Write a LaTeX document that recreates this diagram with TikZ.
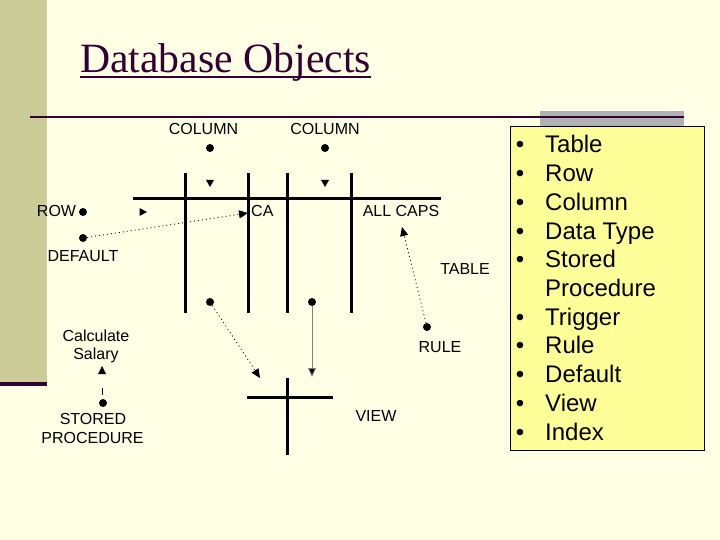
\documentclass[tikz,border=0pt]{standalone}
\usepackage{fontspec}
\setmainfont{Liberation Serif}
\newfontfamily\arialf{Liberation Sans}
\usetikzlibrary{arrows.meta,calc}
\definecolor{bgc}{HTML}{FFFFE5}
\definecolor{bandc}{HTML}{CCCC99}
\definecolor{purp}{HTML}{330033}
\definecolor{boxc}{HTML}{FFFF99}
\definecolor{grayc}{HTML}{B2B2B2}
\tikzset{
  lbl/.style={font=\arialf\fontsize{16}{19}\selectfont, inner sep=0pt, anchor=base},
  dot/.style={circle, fill=black, inner sep=0pt, minimum size=8pt},
  bar/.style={line width=3pt, black},
  dots/.style={dash pattern=on 1pt off 3pt, line width=0.8pt},
  tip/.style={-{Triangle[length=9pt,width=8pt]}},
  itm/.style={font=\arialf\fontsize{24}{29}\selectfont, inner sep=0pt, anchor=base west},
}
\begin{document}
\begin{tikzpicture}[x=1pt,y=-1pt]
\useasboundingbox (0,0) rectangle (720,540);
\fill[bgc] (0,0) rectangle (720,540);
% left band
\fill[bandc] (0,0) rectangle (47,382);
\fill[purp] (0,382) rectangle (47,386);
% title
\node[font=\fontsize{41.7}{48}\selectfont, text=purp, inner sep=0pt, anchor=base west] (title) at (80,73) {Database Objects};
\draw[purp, line width=2pt] ($(title.base west)+(0,4)$) -- ($(title.base east)+(0,4)$);
% gray block and top rule
\fill[grayc] (540,111) rectangle (684,126);
\draw[purp, line width=2pt] (30,117) -- (684,117);
% yellow box
\node[draw=black, fill=boxc, line width=0.6pt, minimum width=194pt, minimum height=324pt, inner sep=0pt, anchor=north west] (list) at (510,126) {};
\foreach \t [count=\i from 0] in {Table,Row,Column,Data Type,Stored,Procedure,Trigger,Rule,Default,View,Index}{
  \node[itm] (it\i) at (545,153+28.7*\i) {\t};
}
\foreach \i in {0,1,2,3,4,6,7,8,9,10}{
  \node[itm, anchor=base] (bu\i) at (520,153+28.7*\i) {•};
}
% table grid
\coordinate (h1) at (133,199); \coordinate (h2) at (441,199);
\draw[bar] (h1) -- (h2);
\foreach \x/\n in {185/a,248/b,287/c,351/d}{
  \coordinate (v\n t) at (\x,173); \coordinate (v\n b) at (\x,313);
  \draw[bar] (v\n t) -- (v\n b);
}
% labels
\node[lbl] (col1) at (203.5,135) {COLUMN};
\node[lbl] (col2) at (325,135) {COLUMN};
\node[lbl] (row) at (56.5,217) {ROW};
\node[lbl] (def) at (83,261) {DEFAULT};
\node[lbl, anchor=base west] (ca) at (251,217) {CA};
\node[lbl] (allcaps) at (401,217) {ALL CAPS};
\node[lbl] (table) at (465,274) {TABLE};
\node[lbl] (rule) at (440,352) {RULE};
\node[lbl] (view) at (376,421) {VIEW};
\node[lbl] (calc) at (96,341) {Calculate};
\node[lbl] (sal) at (96,359) {Salary};
\node[lbl] (stor) at (93,424) {STORED};
\node[lbl] (proc) at (92.5,443) {PROCEDURE};
% dots
\node[dot] (dcol1) at (210,148) {};
\node[dot] (dcol2) at (325,148) {};
\node[dot] (drow) at (83,212) {};
\node[dot] (ddef) at (83,238) {};
\node[dot] (drule) at (427,327) {};
\node[dot] (dsp) at (103,403) {};
\node[dot] (dv1) at (210,302) {};
\node[dot] (dv2) at (312,302) {};
% lone arrowheads
\fill (206,180) -- (214,180) -- (210,187) -- cycle;
\fill (321,180) -- (329,180) -- (325,187) -- cycle;
\fill (139.5,208) -- (139.5,216) -- (147,212) -- cycle;
% connectors
\coordinate (caTip) at (248,213);
\draw[dots, tip] (ddef) -- (caTip);
\coordinate (acTip) at (402,227);
\draw[dots, tip] (drule) -- (acTip);
\coordinate (spTip) at (102,366);
\coordinate (spA) at (102.5,388); \coordinate (spB) at (102.5,395);
\fill (98,374) -- (106,374) -- (102,366) -- cycle;
\draw[line width=1pt] (spA) -- (spB);
\coordinate (v1Tip) at (260,378);
\draw[dots, tip] (dv1) -- (v1Tip);
\coordinate (v2Tip) at (312,377);
\draw[gray, line width=0.9pt, -{Triangle[length=9pt,width=8pt,fill=black]}] (dv2) -- (v2Tip);
% view cross
\coordinate (vh1) at (247,397); \coordinate (vh2) at (333,397);
\coordinate (vv1) at (287,378); \coordinate (vv2) at (287,455);
\draw[bar] (vh1) -- (vh2);
\draw[bar] (vv1) -- (vv2);
\end{tikzpicture}
\end{document}
